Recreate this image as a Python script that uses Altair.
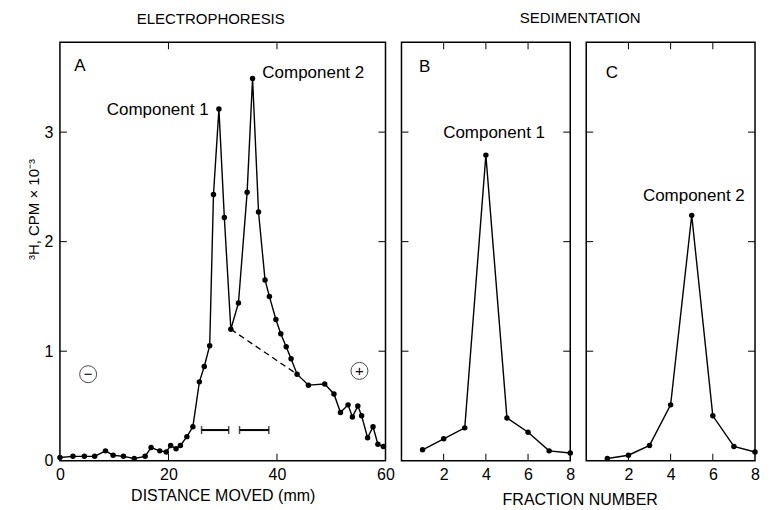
import altair as alt
import pandas as pd

# ---------------- data ----------------
# Panel A: electrophoresis profile
dist_mm = [0, 2.4, 4.5, 6.4, 8.4, 9.8, 11.7, 13.7, 15.7, 16.8, 18.4, 19.6, 20.4, 21.4, 22.2,
           23.4, 24.5, 25.7, 26.6, 27.6, 28.3, 29.3, 30.3, 31.5, 32.9, 34.5, 35.5, 36.6, 37.8,
           38.6, 39.8, 40.7, 41.7, 42.6, 43.7, 45.8, 48.8, 50.5, 51.7, 53.1, 53.9, 54.9, 55.6,
           56.7, 57.7, 58.6, 59.6]
cpm_a = [0.03, 0.04, 0.04, 0.04, 0.09, 0.05, 0.04, 0.02, 0.04, 0.12, 0.09, 0.08, 0.14, 0.11, 0.14,
         0.22, 0.31, 0.72, 0.86, 1.05, 2.43, 3.21, 2.22, 1.20, 1.44, 2.45, 3.49, 2.27, 1.65,
         1.50, 1.29, 1.16, 1.04, 0.93, 0.79, 0.69, 0.70, 0.61, 0.44, 0.51, 0.40, 0.50, 0.41,
         0.21, 0.31, 0.15, 0.13]
baseline_x = [31.5, 43.7]
baseline_y = [1.20, 0.79]
pool_start = [26.1, 33.1]
pool_end = [31.1, 38.5]
pool_y = [0.28, 0.28]
sign_x = [5.2, 55.2]
sign_y = [0.79, 0.82]
sign_text = ["\u2212", "+"]

# Panels B, C: sedimentation
fraction = [1, 2, 3, 4, 5, 6, 7, 8]
cpm_b = [0.10, 0.20, 0.30, 2.79, 0.39, 0.26, 0.09, 0.07]
cpm_c = [0.02, 0.05, 0.14, 0.51, 2.24, 0.41, 0.13, 0.08]

y_ticks = [0, 1, 2, 3]
x_ticks_a = [0, 20, 40, 60]
x_ticks_bc = [2, 4, 6, 8]
inner_y_ticks = [1, 2, 3]
inner_x_ticks_a = [20, 40]
inner_x_ticks_bc = [2, 4, 6]

Y_DOMAIN = [0, 3.82]
H = 419
W_A = 326
W_BC = 169
TICK = 7

FONT = "Liberation Sans"


def make_panel(xs, ys, xdom, width, xaxis, yaxis, letter, letter_xy, labels, extra=None):
    xsc = alt.Scale(domain=xdom, nice=False, zero=False)
    ysc = alt.Scale(domain=Y_DOMAIN, nice=False, zero=False)

    def X(f="x"):
        return alt.X(f"{f}:Q", scale=xsc, axis=xaxis)

    def Y(f="y"):
        return alt.Y(f"{f}:Q", scale=ysc, axis=yaxis)

    df = pd.DataFrame({"x": xs, "y": ys})
    line = alt.Chart(df).mark_line(
        color="black", strokeWidth=1.4,
        point=alt.OverlayMarkDef(filled=True, size=30, color="black")
    ).encode(x=X(), y=Y())

    layers = [line]

    # inward ticks on all four sides
    yt = pd.DataFrame({"y": inner_y_ticks})
    layers.append(alt.Chart(yt).mark_rule(color="black", strokeWidth=1).encode(
        y=Y(), x=alt.value(0), x2=alt.value(TICK)))
    layers.append(alt.Chart(yt).mark_rule(color="black", strokeWidth=1).encode(
        y=Y(), x=alt.value(width - TICK), x2=alt.value(width)))
    xt = pd.DataFrame({"x": inner_x_ticks_a if width == W_A else inner_x_ticks_bc})
    layers.append(alt.Chart(xt).mark_rule(color="black", strokeWidth=1).encode(
        x=X(), y=alt.value(0), y2=alt.value(TICK)))
    layers.append(alt.Chart(xt).mark_rule(color="black", strokeWidth=1).encode(
        x=X(), y=alt.value(H - TICK), y2=alt.value(H)))

    # panel letter
    ldf = pd.DataFrame({"x": [letter_xy[0]], "y": [letter_xy[1]], "t": [letter]})
    layers.append(alt.Chart(ldf).mark_text(font=FONT, fontSize=17, color="black",
                                           align="center", baseline="middle").encode(
        x=X(), y=Y(), text="t:N"))

    # component labels
    for (lx, ly, txt, al) in labels:
        cdf = pd.DataFrame({"x": [lx], "y": [ly], "t": [txt]})
        layers.append(alt.Chart(cdf).mark_text(font=FONT, fontSize=17, color="black",
                                               align=al, baseline="middle").encode(
            x=X(), y=Y(), text="t:N"))

    if extra is not None:
        layers.extend(extra(X, Y))

    return alt.layer(*layers).properties(width=width, height=H)


def extras_a(X, Y):
    out = []
    bdf = pd.DataFrame({"x": baseline_x, "y": baseline_y})
    out.append(alt.Chart(bdf).mark_line(color="black", strokeWidth=1.3, strokeDash=[6, 4]).encode(
        x=X(), y=Y()))
    pdf = pd.DataFrame({"x": pool_start, "x2": pool_end, "y": pool_y})
    out.append(alt.Chart(pdf).mark_rule(color="black", strokeWidth=2).encode(
        x=X(), x2=alt.X2("x2:Q"), y=Y()))
    caps = pd.DataFrame({"x": pool_start + pool_end, "y": pool_y + pool_y})
    out.append(alt.Chart(caps).mark_tick(orient="vertical", size=8, thickness=1.5,
                                         color="black").encode(x=X(), y=Y()))
    sdf = pd.DataFrame({"x": sign_x, "y": sign_y, "t": sign_text})
    out.append(alt.Chart(sdf).mark_point(shape="circle", size=289, filled=False,
                                         color="black", strokeWidth=1).encode(x=X(), y=Y()))
    out.append(alt.Chart(sdf).mark_text(font=FONT, fontSize=15, color="black",
                                        align="center", baseline="middle").encode(
        x=X(), y=Y(), text="t:N"))
    return out


common_axis = dict(ticks=False, domain=False, grid=False, labelFont=FONT, labelFontSize=16,
                   labelColor="black", titleFont=FONT, titleColor="black",
                   titleFontWeight="normal", labelFlush=False)

xaxis_a = alt.Axis(values=x_ticks_a, title="DISTANCE MOVED (mm)", labelPadding=6,
                   titlePadding=5, titleFontSize=16, **common_axis)
yaxis_a = alt.Axis(values=y_ticks, title="\u00b3H, CPM \u00d7 10\u207b\u00b3", labelPadding=7,
                   titlePadding=3, titleFontSize=15, titleY=167, **common_axis)
xaxis_bc = alt.Axis(values=x_ticks_bc, title=None, labelPadding=6, **common_axis)

panel_a = make_panel(dist_mm, cpm_a, [0, 60], W_A, xaxis_a, yaxis_a, "A", (3.7, 3.6),
                     [(27.4, 3.2, "Component 1", "right"), (37.3, 3.54, "Component 2", "left")],
                     extra=extras_a)
panel_b = make_panel(fraction, cpm_b, [0, 8], W_BC, xaxis_bc, None, "B", (1.1, 3.59),
                     [(4.39, 2.99, "Component 1", "center")])
panel_c = make_panel(fraction, cpm_c, [0, 8], W_BC, xaxis_bc, None, "C", (1.22, 3.54),
                     [(5.1, 2.42, "Component 2", "center")])

title_kw = dict(font=FONT, fontSize=15, fontWeight="normal", color="black", anchor="middle")

left = panel_a.properties(title=alt.TitleParams("ELECTROPHORESIS", dx=-12, offset=15, **title_kw))
inner = alt.hconcat(panel_b, panel_c, spacing=16, bounds="flush").properties(
    title=alt.TitleParams("FRACTION NUMBER", orient="bottom", offset=9, font=FONT, fontSize=16,
                          fontWeight="normal", color="black", anchor="middle"))
right = alt.hconcat(inner, bounds="flush").properties(
    title=alt.TitleParams("SEDIMENTATION", offset=15, **title_kw))

chart = alt.hconcat(left, right, spacing=16, bounds="flush").properties(
    padding={"left": 17, "top": 2, "right": 0, "bottom": 0}
).configure(background="white").configure_view(stroke="black", strokeWidth=1.5)

chart.save("out.html", embed_options={"renderer": "svg", "actions": False})
